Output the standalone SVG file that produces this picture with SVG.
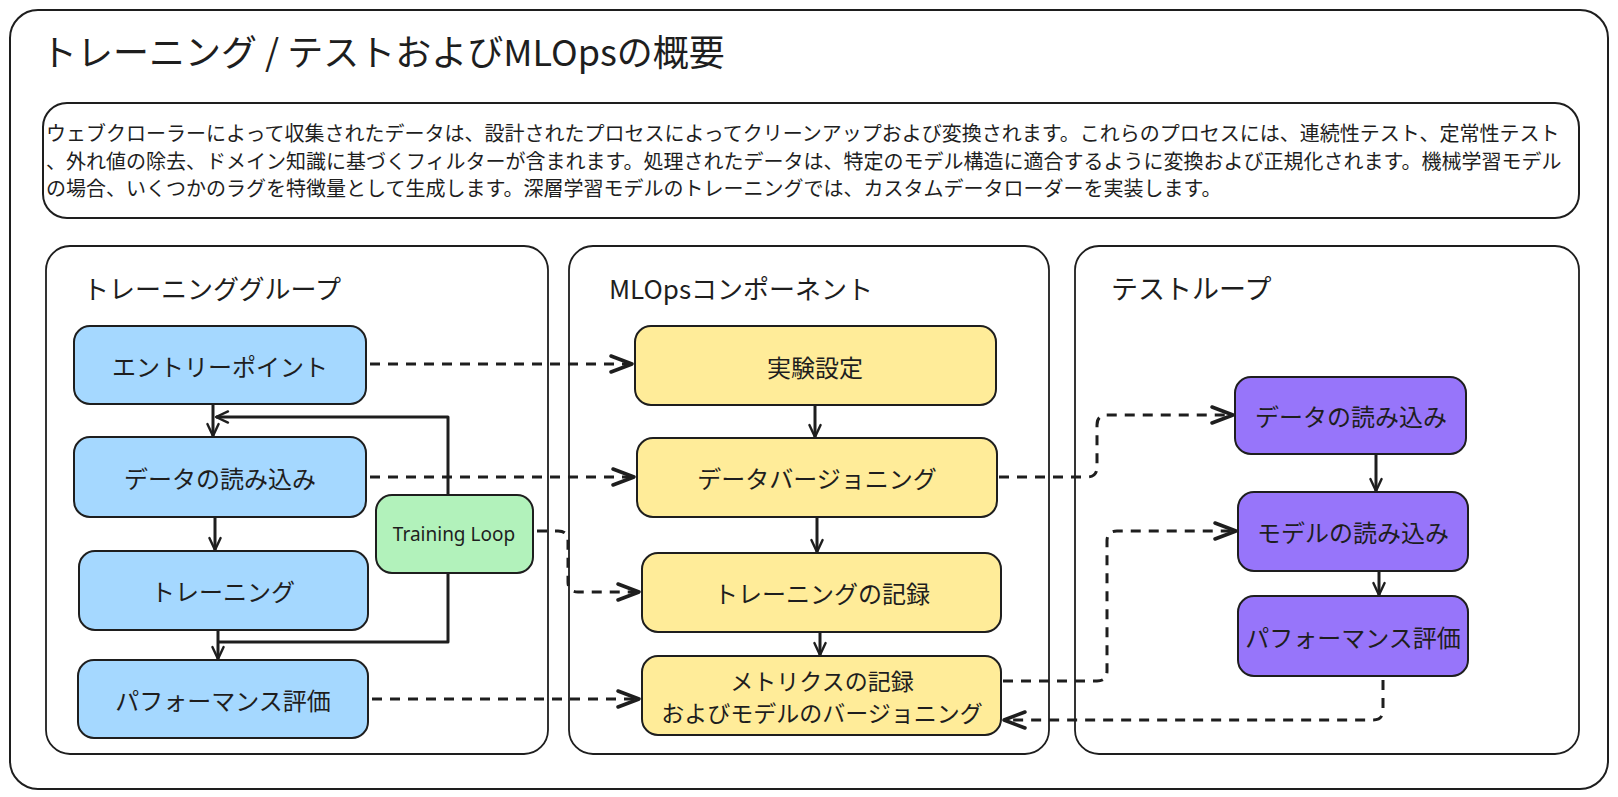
<svg xmlns="http://www.w3.org/2000/svg" width="1618" height="797" viewBox="0 0 1618 797">
<defs>
<style>
.frame{fill:#ffffff;stroke:#1e1e1e;stroke-width:2}
.grp{fill:none;stroke:#1e1e1e;stroke-width:1.8}
.blue{fill:#a5d8ff;stroke:#1e1e1e;stroke-width:2}
.green{fill:#b2f2bb;stroke:#1e1e1e;stroke-width:2}
.yellow{fill:#ffec99;stroke:#1e1e1e;stroke-width:2}
.violet{fill:#9775fa;stroke:#1e1e1e;stroke-width:2}
text{font-family:"Noto Sans CJK JP","Noto Sans",sans-serif;fill:#1e1e1e}
.t{font-size:24px;text-anchor:middle;dominant-baseline:central}
.gt{font-size:26px}
.desc{font-size:20px}
.solid{fill:none;stroke:#1e1e1e;stroke-width:3;stroke-linejoin:round}
.dash{fill:none;stroke:#1e1e1e;stroke-width:3;stroke-dasharray:10 8;stroke-linejoin:round}
</style>
<marker id="ah" viewBox="0 0 20 20" refX="18" refY="10" markerWidth="16" markerHeight="16" orient="auto" markerUnits="userSpaceOnUse">
<path d="M3,3 L18,10 L3,17" fill="none" stroke="#1e1e1e" stroke-width="3" stroke-linecap="round" stroke-linejoin="round"/>
</marker>
<marker id="ahd" viewBox="0 0 26 22" refX="24" refY="11" markerWidth="26" markerHeight="22" orient="auto" markerUnits="userSpaceOnUse">
<path d="M3,3 L24,11 L3,19" fill="none" stroke="#1e1e1e" stroke-width="3.5" stroke-linecap="round" stroke-linejoin="round"/>
</marker>
</defs>

<g id="frame">
<rect class="frame" x="10" y="10" width="1598" height="779" rx="28"/>
<text x="41" y="66" style="font-size:36px">トレーニング / テストおよびMLOpsの概要</text>
</g>

<g id="description">
<rect class="frame" x="43" y="103" width="1536" height="115" rx="24"/>
<text class="desc" x="46" y="141">ウェブクローラーによって収集されたデータは、設計されたプロセスによってクリーンアップおよび変換されます。これらのプロセスには、連続性テスト、定常性テスト</text>
<text class="desc" x="46" y="169">、外れ値の除去、ドメイン知識に基づくフィルターが含まれます。処理されたデータは、特定のモデル構造に適合するように変換および正規化されます。機械学習モデル</text>
<text class="desc" x="46" y="196">の場合、いくつかのラグを特徴量として生成します。深層学習モデルのトレーニングでは、カスタムデータローダーを実装します。</text>
</g>

<g id="group-training">
<rect class="grp" x="46" y="246" width="502" height="508" rx="24"/>
<text class="gt" x="83" y="299">トレーニンググループ</text>
</g>
<g id="group-mlops">
<rect class="grp" x="569" y="246" width="480" height="508" rx="24"/>
<text class="gt" x="609" y="299">MLOpsコンポーネント</text>
</g>
<g id="group-test">
<rect class="grp" x="1075" y="246" width="504" height="508" rx="24"/>
<text class="gt" x="1111" y="299" style="font-size:27px">テストループ</text>
</g>

<g id="connectors">
<path class="solid" d="M213,404 L213,436" marker-end="url(#ah)"/>
<path class="solid" d="M215,517 L215,550" marker-end="url(#ah)"/>
<path class="solid" d="M218,630 L218,659" marker-end="url(#ah)"/>
<path class="solid" d="M448,495 L448,417 L216,417" marker-end="url(#ah)"/>
<path class="solid" d="M448,573 L448,642 L218,642"/>
<path class="solid" d="M815,406 L815,437" marker-end="url(#ah)"/>
<path class="solid" d="M817,518 L817,552" marker-end="url(#ah)"/>
<path class="solid" d="M820,633 L820,655" marker-end="url(#ah)"/>
<path class="solid" d="M1376,455 L1376,491" marker-end="url(#ah)"/>
<path class="solid" d="M1379,572 L1379,595" marker-end="url(#ah)"/>
<path class="dash" d="M370,364 L632,364" marker-end="url(#ahd)"/>
<path class="dash" d="M370,477 L634,477" marker-end="url(#ahd)"/>
<path class="dash" d="M537,531 L558,531 Q568,531 568,541 L568,582 Q568,592 578,592 L639,592" marker-end="url(#ahd)"/>
<path class="dash" d="M372,699 L639,699" marker-end="url(#ahd)"/>
<path class="dash" d="M999,477 L1087,477 Q1097,477 1097,467 L1097,425 Q1097,415 1107,415 L1233,415" marker-end="url(#ahd)"/>
<path class="dash" d="M1003,681 L1097,681 Q1107,681 1107,671 L1107,541 Q1107,531 1117,531 L1236,531" marker-end="url(#ahd)"/>
<path class="dash" d="M1383,680 L1383,710 Q1383,720 1373,720 L1004,720" marker-end="url(#ahd)"/>
</g>

<g id="node-entry">
<rect class="blue" x="74" y="326" width="292" height="78" rx="16"/>
<text class="t" x="220" y="365">エントリーポイント</text>
</g>
<g id="node-dataload">
<rect class="blue" x="74" y="437" width="292" height="80" rx="16"/>
<text class="t" x="220" y="477">データの読み込み</text>
</g>
<g id="node-training">
<rect class="blue" x="79" y="551" width="289" height="79" rx="16"/>
<text class="t" x="223" y="590">トレーニング</text>
</g>
<g id="node-perf">
<rect class="blue" x="78" y="660" width="290" height="78" rx="16"/>
<text class="t" x="223" y="699">パフォーマンス評価</text>
</g>
<g id="node-loop">
<rect class="green" x="376" y="495" width="157" height="78" rx="16"/>
<text class="t" x="454" y="534" style="font-family:'Noto Sans',sans-serif;font-size:19px">Training Loop</text>
</g>

<g id="node-exp">
<rect class="yellow" x="635" y="326" width="361" height="79" rx="16"/>
<text class="t" x="815" y="366">実験設定</text>
</g>
<g id="node-dataver">
<rect class="yellow" x="637" y="438" width="360" height="79" rx="16"/>
<text class="t" x="817" y="477">データバージョニング</text>
</g>
<g id="node-trainlog">
<rect class="yellow" x="642" y="553" width="359" height="79" rx="16"/>
<text class="t" x="822" y="592">トレーニングの記録</text>
</g>
<g id="node-metrics">
<rect class="yellow" x="642" y="656" width="359" height="79" rx="16"/>
<text class="t" x="822" y="680" style="font-size:23px">メトリクスの記録</text>
<text class="t" x="822" y="712" style="font-size:23px">およびモデルのバージョニング</text>
</g>

<g id="node-test-data">
<rect class="violet" x="1235" y="377" width="231" height="77" rx="16"/>
<text class="t" x="1351" y="415">データの読み込み</text>
</g>
<g id="node-test-model">
<rect class="violet" x="1238" y="492" width="230" height="79" rx="16"/>
<text class="t" x="1353" y="531">モデルの読み込み</text>
</g>
<g id="node-test-perf">
<rect class="violet" x="1238" y="596" width="230" height="80" rx="16"/>
<text class="t" x="1353" y="636">パフォーマンス評価</text>
</g>
</svg>
